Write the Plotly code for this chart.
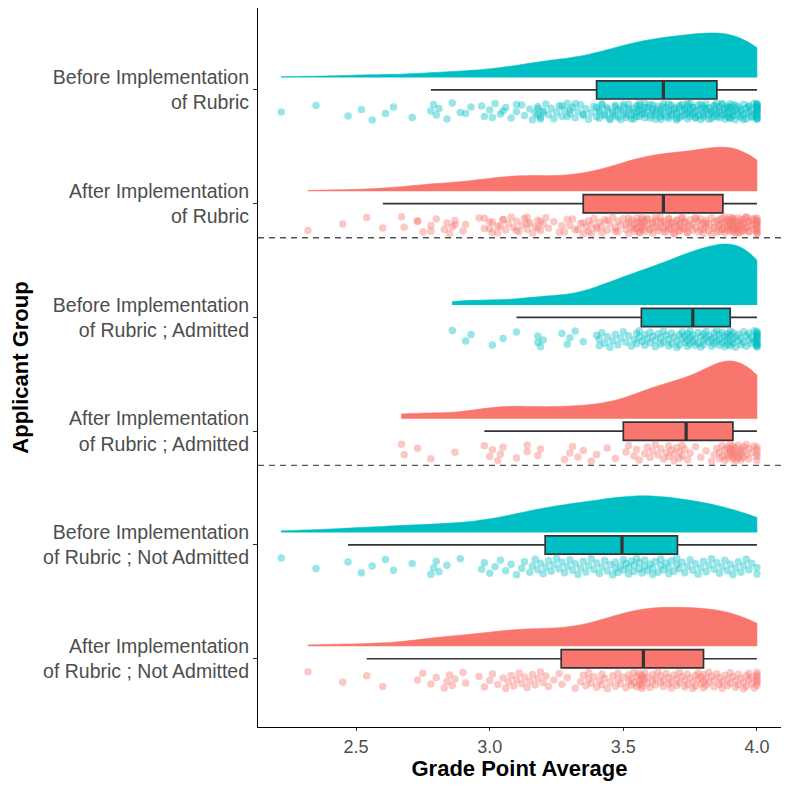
####################################################
# Raincloud plot of applicant GPA by rubric period #
####################################################

import numpy as np
import plotly.graph_objects as go

# GPA values, one list per applicant subgroup
before_admitted = [
    2.86, 2.91, 2.93, 3.01, 3.05, 3.10, 3.18, 3.18, 3.19, 3.20, 3.27, 3.29, 3.30, 3.32, 3.35,
    3.40, 3.41, 3.41, 3.42, 3.43, 3.44, 3.45, 3.46, 3.47, 3.48, 3.49, 3.50, 3.51, 3.52, 3.53,
    3.54, 3.55, 3.55, 3.56, 3.56,
    3.57, 3.58, 3.58, 3.59, 3.60, 3.60, 3.61, 3.62, 3.62, 3.63, 3.64, 3.64, 3.65, 3.65, 3.66,
    3.67, 3.67, 3.68, 3.68, 3.69, 3.70, 3.70, 3.71, 3.71, 3.72, 3.72, 3.73, 3.73, 3.74, 3.74,
    3.74, 3.75, 3.75, 3.75, 3.76,
    3.76, 3.77, 3.77, 3.78, 3.78, 3.79, 3.79, 3.80, 3.80, 3.80, 3.81, 3.81, 3.82, 3.82, 3.83,
    3.83, 3.84, 3.84, 3.84, 3.85, 3.85, 3.86, 3.86, 3.86, 3.87, 3.87, 3.88, 3.88, 3.88, 3.89,
    3.89, 3.89, 3.90, 3.90, 3.90,
    3.90, 3.91, 3.91, 3.91, 3.92, 3.92, 3.93, 3.93, 3.94, 3.94, 3.95, 3.95, 3.96, 3.96, 3.97,
    3.97, 3.98, 3.98, 3.99, 3.99, 4.00, 4.00, 4.00, 4.00, 4.00, 4.00, 4.00, 4.00, 4.00, 4.00,
    4.00, 4.00, 4.00, 4.00, 4.00,
]
before_not_admitted = [
    2.22, 2.35, 2.47, 2.52, 2.56, 2.61, 2.64, 2.71, 2.78, 2.79, 2.80, 2.81, 2.84, 2.89, 2.97,
    2.98, 3.00, 3.02, 3.04, 3.06, 3.08, 3.10, 3.12, 3.13, 3.15, 3.16, 3.17, 3.18, 3.19, 3.20,
    3.21, 3.22, 3.23, 3.24, 3.25, 3.26, 3.27, 3.28, 3.29, 3.30, 3.31, 3.32, 3.33, 3.34, 3.35,
    3.36, 3.37, 3.38, 3.39, 3.40, 3.41, 3.42, 3.43, 3.44, 3.45, 3.46, 3.47, 3.47, 3.48, 3.49,
    3.50, 3.50, 3.51, 3.52, 3.52, 3.53, 3.54, 3.54, 3.55, 3.56, 3.56, 3.57, 3.58, 3.58, 3.59,
    3.60, 3.61, 3.61, 3.62, 3.63, 3.64, 3.64, 3.65, 3.66, 3.67, 3.67, 3.68, 3.69, 3.70, 3.70,
    3.71, 3.72, 3.73, 3.74, 3.75, 3.76, 3.77, 3.78, 3.79, 3.80, 3.81, 3.82, 3.83, 3.84, 3.85,
    3.86, 3.87, 3.88, 3.89, 3.90, 3.91, 3.92, 3.93, 3.94, 3.95, 3.96, 3.97, 3.98, 4.00, 4.00,
]
after_admitted = [
    2.67, 2.68, 2.73, 2.78, 2.87, 2.98, 3.00, 3.01, 3.03, 3.04, 3.05, 3.10, 3.14, 3.14, 3.18,
    3.19, 3.28, 3.30, 3.31, 3.33, 3.35, 3.38, 3.40, 3.44, 3.47,
    3.51, 3.52, 3.54, 3.55, 3.56, 3.58, 3.59, 3.60, 3.61, 3.62, 3.63, 3.64, 3.65, 3.66, 3.67,
    3.67, 3.68, 3.69, 3.69, 3.70, 3.71, 3.71, 3.72, 3.72, 3.73,
    3.74, 3.75, 3.77, 3.79, 3.81, 3.83, 3.84, 3.85, 3.86, 3.86, 3.87, 3.87, 3.88, 3.88, 3.89,
    3.89, 3.89, 3.90, 3.90, 3.90, 3.90, 3.91, 3.91, 3.91, 3.91,
    3.91, 3.92, 3.92, 3.92, 3.93, 3.93, 3.93, 3.93, 3.94, 3.94, 3.94, 3.95, 3.95, 3.95, 3.96,
    3.96, 3.97, 3.97, 3.98, 3.99, 4.00, 4.00, 4.00, 4.00, 4.00,
]
after_not_admitted = [
    2.32, 2.45, 2.54, 2.60, 2.73, 2.75, 2.78, 2.80, 2.83, 2.84, 2.85, 2.86, 2.87, 2.90, 2.91,
    2.96, 2.98, 3.00, 3.01, 3.03, 3.05, 3.06, 3.07, 3.08, 3.09, 3.10, 3.11, 3.12, 3.13, 3.14,
    3.15, 3.16, 3.17, 3.18, 3.19, 3.20, 3.21, 3.22, 3.24, 3.26,
    3.27, 3.29, 3.32, 3.34, 3.35, 3.36, 3.37, 3.37, 3.38, 3.39, 3.40, 3.41, 3.42, 3.42, 3.43,
    3.44, 3.45, 3.46, 3.47, 3.48, 3.48, 3.49, 3.50, 3.51, 3.52, 3.52, 3.53, 3.53, 3.54, 3.54,
    3.55, 3.55, 3.56, 3.56, 3.56, 3.57, 3.57, 3.57, 3.57, 3.57,
    3.58, 3.58, 3.59, 3.59, 3.60, 3.61, 3.61, 3.62, 3.62, 3.63, 3.64, 3.64, 3.65, 3.65, 3.66,
    3.67, 3.67, 3.68, 3.68, 3.69, 3.70, 3.70, 3.71, 3.71, 3.72, 3.73, 3.73, 3.74, 3.74, 3.75,
    3.76, 3.76, 3.77, 3.77, 3.78, 3.78, 3.79, 3.79, 3.80, 3.80,
    3.80, 3.81, 3.81, 3.82, 3.82, 3.83, 3.84, 3.84, 3.85, 3.86, 3.86, 3.87, 3.87, 3.88, 3.89,
    3.89, 3.90, 3.90, 3.91, 3.92, 3.92, 3.93, 3.93, 3.94, 3.95, 3.95, 3.96, 3.96, 3.97, 3.97,
    3.98, 3.98, 3.99, 4.00, 4.00, 4.00, 4.00, 4.00, 4.00, 4.00,
]

group_labels = [
    "Before Implementation<br>of Rubric",
    "After Implementation<br>of Rubric",
    "Before Implementation<br>of Rubric ; Admitted",
    "After Implementation<br>of Rubric ; Admitted",
    "Before Implementation<br>of Rubric ; Not Admitted",
    "After Implementation<br>of Rubric ; Not Admitted",
]
group_values = [
    before_admitted + before_not_admitted,
    after_admitted + after_not_admitted,
    before_admitted,
    after_admitted,
    before_not_admitted,
    after_not_admitted,
]
x_ticks = [2.5, 3.0, 3.5, 4.0]

teal = "#00BFC4"
salmon = "#F8766D"
group_colors = [teal, salmon, teal, salmon, teal, salmon]

# top group sits at y=6, bottom at y=1
positions = [6, 5, 4, 3, 2, 1]


def bw_nrd0(v):
    # same rule of thumb as R's density() default
    q1, q3 = np.percentile(v, [25, 75])
    return 0.9 * min(v.std(ddof=1), (q3 - q1) / 1.34) * len(v) ** -0.2


def kde_peak(v, bw):
    grid = np.linspace(v.min(), v.max(), 300)
    z = (grid[:, None] - v[None, :]) / bw
    dens = np.exp(-0.5 * z ** 2).sum(axis=1) / (len(v) * bw * np.sqrt(2 * np.pi))
    return dens.max()


# ggplot's scale="area": tallest cloud gets the full width, the rest in proportion
arrays = [np.array(g) for g in group_values]
bws = [bw_nrd0(v) for v in arrays]
peaks = [kde_peak(v, b) for v, b in zip(arrays, bws)]
max_width = 1.07

fig = go.Figure()

for pos, v, bw, pk, col in zip(positions, arrays, bws, peaks, group_colors):
    n = len(v)
    q1, med, q3 = np.percentile(v, [25, 50, 75])
    iqr = q3 - q1
    lo = v[v >= q1 - 1.5 * iqr].min()
    hi = v[v <= q3 + 1.5 * iqr].max()

    # half violin (the cloud), nudged up
    fig.add_trace(go.Violin(
        x=v, y=[pos + 0.11] * n, orientation="h", side="positive",
        width=max_width * pk / max(peaks), spanmode="hard",
        bandwidth=bw, fillcolor=col, line=dict(color=col, width=0.6),
        opacity=1, points=False, box_visible=False, meanline_visible=False,
        hoverinfo="skip", showlegend=False))

    # the rain: jittered points below the box
    jit = (np.arange(n) * 0.6180339887) % 1.0
    fig.add_trace(go.Scatter(
        x=v, y=pos - 0.115 - 0.15 * jit, mode="markers",
        marker=dict(color=col, size=7.5, opacity=0.4, line=dict(width=0)),
        hoverinfo="x", showlegend=False))

    # boxplot
    fig.add_trace(go.Box(
        y=[pos], q1=[q1], median=[med], q3=[q3], lowerfence=[lo], upperfence=[hi],
        orientation="h", width=0.16, fillcolor=col, whiskerwidth=0,
        line=dict(color="#333333", width=1.7), boxpoints=False,
        hoverinfo="skip", showlegend=False))
    # thicker median line like ggplot
    fig.add_trace(go.Scatter(
        x=[med, med], y=[pos - 0.08, pos + 0.08], mode="lines",
        line=dict(color="#333333", width=3.2), hoverinfo="skip", showlegend=False))

# dashed separators between the three comparisons
for sep in [positions[1] - 0.3, positions[3] - 0.3]:
    fig.add_hline(y=sep, line=dict(color="#555555", width=1.4, dash="6px,5px"))

# the page body adds an 8px margin, so the figure is a bit smaller than the window
fig.update_layout(
    width=773, height=773,
    margin=dict(l=250, r=0, t=0, b=54),
    plot_bgcolor="white", paper_bgcolor="white",
    font=dict(family="Liberation Sans, Arial, sans-serif"),
    showlegend=False,
)
fig.update_xaxes(
    range=[2.133, 4.09], tickvals=x_ticks, ticktext=[f"{t:.1f}" for t in x_ticks],
    showline=True, linecolor="black", linewidth=1.2, mirror=False,
    ticks="outside", ticklen=3, tickcolor="#333333", tickwidth=1,
    tickfont=dict(size=18, color="#4D4D4D"), showgrid=False, zeroline=False,
    title=dict(text="<b>Grade Point Average</b>", font=dict(size=22, color="black"), standoff=2),
)
fig.update_yaxes(
    range=[0.4, 6.72], tickvals=positions, ticktext=group_labels,
    showline=True, linecolor="black", linewidth=1.2,
    ticks="outside", ticklen=4, tickcolor="#333333", tickwidth=1,
    tickfont=dict(size=19.5, color="#4D4D4D"), showgrid=False, zeroline=False,
    title=dict(text="<b>Applicant Group</b>", font=dict(size=22, color="black"), standoff=17),
)

fig.write_html("out.html")
